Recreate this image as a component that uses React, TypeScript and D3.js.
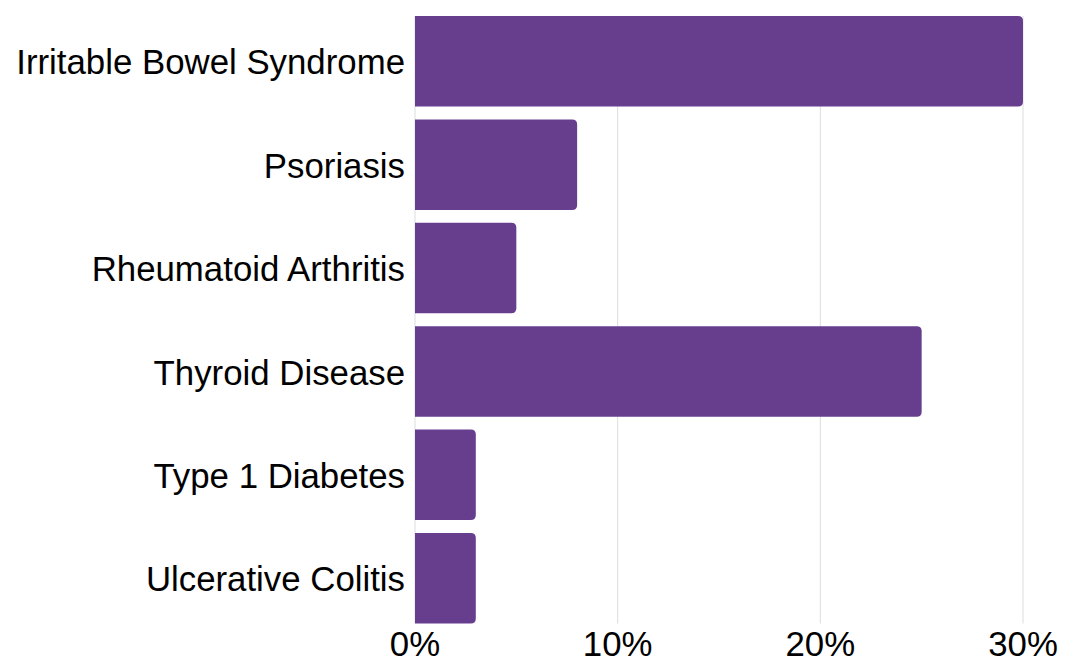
import React from "react";
import * as d3 from "d3";

const categories = [
  "Irritable Bowel Syndrome",
  "Psoriasis",
  "Rheumatoid Arthritis",
  "Thyroid Disease",
  "Type 1 Diabetes",
  "Ulcerative Colitis",
];
const values = [30, 8, 5, 25, 3, 3];
const ticks = [0, 10, 20, 30];

const W = 1086;
const H = 665;
const left = 415;
const right = 1023;
const top = 16;
const bottom = 623.5;
const color = "#673E8E";

function barPath(x0: number, x1: number, y0: number, h: number, r: number) {
  const rr = Math.min(r, (x1 - x0) / 2, h / 2);
  return `M${x0},${y0}H${x1 - rr}Q${x1},${y0} ${x1},${y0 + rr}V${y0 + h - rr}Q${x1},${y0 + h} ${x1 - rr},${y0 + h}H${x0}Z`;
}

export default function App() {
  const x = d3.scaleLinear().domain([0, 30]).range([left, right]);
  const y = d3
    .scaleBand<string>()
    .domain(categories)
    .range([top, bottom])
    .paddingInner(0.125)
    .paddingOuter(0);
  const font = "Liberation Sans, Arial, sans-serif";
  return (
    <svg
      width={W}
      height={H}
      style={{ position: "absolute", left: 0, top: 0, background: "#fff" }}
    >
      {ticks.map((t) => (
        <line
          key={"g" + t}
          x1={x(t)}
          x2={x(t)}
          y1={top}
          y2={bottom}
          stroke="#dddddd"
          strokeWidth={1}
        />
      ))}
      {categories.map((c, i) => (
        <path
          key={c}
          d={barPath(x(0), x(values[i]), y(c)!, y.bandwidth(), 5)}
          fill={color}
        />
      ))}
      {categories.map((c) => (
        <text
          key={"l" + c}
          x={left - 10}
          y={y(c)! + y.bandwidth() / 2 + 1}
          dy="0.35em"
          textAnchor="end"
          fontFamily={font}
          fontSize={34.8}
          fill="#000"
        >
          {c}
        </text>
      ))}
      {ticks.map((t) => (
        <text
          key={"t" + t}
          x={x(t)}
          y={656}
          textAnchor="middle"
          fontFamily={font}
          fontSize={34.8}
          fill="#000"
        >
          {t + "%"}
        </text>
      ))}
    </svg>
  );
}
